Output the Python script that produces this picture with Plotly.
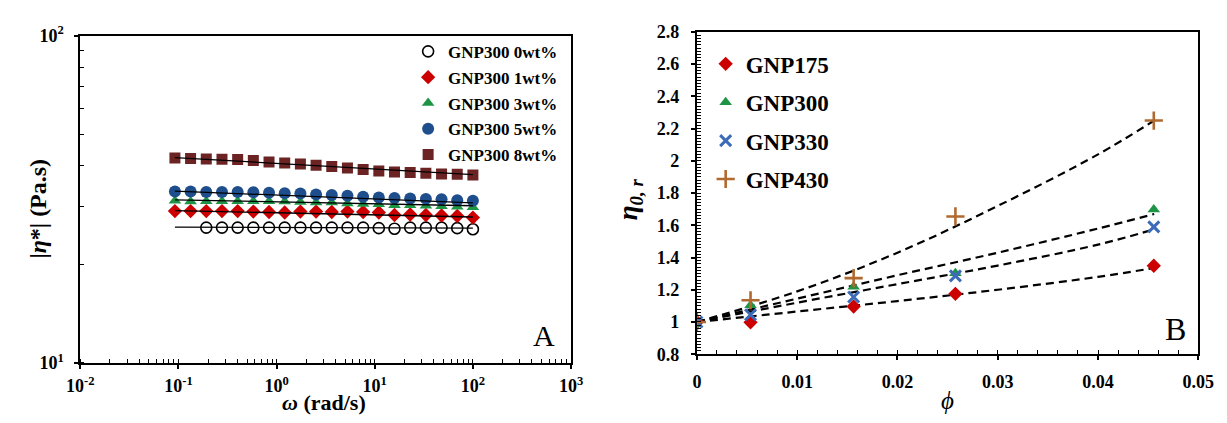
import plotly.graph_objects as go

W, H = 1227, 423
FONT = "Liberation Serif"

# ---------------- Panel A data ----------------
omega = [0.092, 0.1329, 0.1920, 0.2775, 0.4009, 0.5792, 0.8368, 1.209, 1.747, 2.524,
         3.647, 5.269, 7.613, 11.0, 15.89, 22.96, 33.17, 47.93, 69.25, 100.0]
eta_0wt = [25.9, 25.9, 25.9, 25.9, 25.9, 25.9, 25.9, 25.9, 25.9, 25.9,
           25.9, 25.8, 25.7, 25.9, 25.9, 25.9, 25.8, 25.6]          # from omega[2:]
eta_1wt = [29.1, 29.1, 29.1, 29.1, 29.1, 29.0, 28.9, 28.8, 29.0, 29.0,
           28.9, 29.0, 28.9, 28.8, 28.3, 28.4, 28.3, 28.2, 28.1, 27.8]
eta_3wt = [31.3, 31.1, 31.2, 31.2, 31.2, 31.2, 31.2, 31.1, 31.0, 30.9,
           30.9, 30.7, 30.6, 30.5, 30.3, 30.3, 30.2, 30.1, 30.0, 29.9]
eta_5wt = [33.4, 33.4, 33.3, 33.3, 33.3, 33.2, 33.1, 33.0, 32.9, 32.7,
           32.6, 32.4, 32.2, 32.0, 31.9, 31.8, 31.7, 31.6, 31.4, 31.3]
eta_8wt = [42.3, 42.1, 42.0, 41.9, 41.8, 41.5, 41.1, 40.8, 40.5, 40.2,
           39.8, 39.4, 39.0, 38.6, 38.3, 38.2, 38.0, 37.8, 37.7, 37.5]
fit_omega = [0.092, 100.0]
fit_0wt = [26.0, 25.8]
fit_1wt = [29.2, 27.9]
fit_3wt = [31.5, 30.2]
fit_5wt = [33.5, 30.8]
fit_8wt = [42.4, 37.6]
labels_A = ["GNP300 0wt%", "GNP300 1wt%", "GNP300 3wt%", "GNP300 5wt%", "GNP300 8wt%"]
xticks_A = [0.01, 0.1, 1, 10, 100, 1000]
xticktext_A = ["10<sup>-2</sup>", "10<sup>-1</sup>", "10<sup>0</sup>", "10<sup>1</sup>",
               "10<sup>2</sup>", "10<sup>3</sup>"]
yticks_A = [10, 100]
yticktext_A = ["10<sup>1</sup>", "10<sup>2</sup>"]

# ---------------- Panel B data ----------------
phi = [0.0, 0.00535, 0.01563, 0.02578, 0.04556]
eta_r_175 = [1.00, 0.998, 1.096, 1.175, 1.349]
eta_r_300 = [0.985, 1.104, 1.218, 1.302, 1.698]
eta_r_330 = [1.00, 1.045, 1.155, 1.286, 1.590]
eta_r_430 = [1.00, 1.135, 1.272, 1.655, 2.250]
fit_phi = [0.0, 0.01, 0.02, 0.03, 0.04, 0.0456]
fit_175 = [1.0, 1.065, 1.13, 1.20, 1.28, 1.335]
fit_300 = [1.0, 1.145, 1.29, 1.43, 1.58, 1.67]
fit_330 = [1.0, 1.12, 1.235, 1.35, 1.48, 1.575]
fit_430 = [1.0, 1.19, 1.43, 1.72, 2.04, 2.25]
labels_B = ["GNP175", "GNP300", "GNP330", "GNP430"]

# colours
C_RED = "#CC0000"
C_GREEN = "#1E9445"
C_BLUE = "#1F4E8C"
C_MAROON = "#6B2323"
C_XBLUE = "#3C6BB8"
C_BROWN = "#B0692E"

fig = go.Figure()

# ---- Panel A markers ----
specs_A = [
    (omega[2:], eta_0wt, dict(symbol="circle-open", size=11, color="black", line=dict(width=1.6, color="black"))),
    (omega, eta_1wt, dict(symbol="diamond", size=11, color=C_RED)),
    (omega, eta_3wt, dict(symbol="triangle-up", size=11, color=C_GREEN)),
    (omega, eta_5wt, dict(symbol="circle", size=12, color=C_BLUE)),
    (omega, eta_8wt, dict(symbol="square", size=11, color=C_MAROON)),
]
for i, (xs, ys, mk) in enumerate(specs_A):
    fig.add_trace(go.Scatter(x=xs, y=ys, mode="markers", marker=mk, name=labels_A[i],
                             xaxis="x", yaxis="y", legend="legend", legendgroup=f"a{i}"))
for ys in [fit_0wt, fit_1wt, fit_3wt, fit_5wt, fit_8wt]:
    fig.add_trace(go.Scatter(x=fit_omega, y=ys, mode="lines", line=dict(color="black", width=1.3),
                             showlegend=False, xaxis="x", yaxis="y", hoverinfo="skip"))

# ---- Panel B ----
for ys in [fit_175, fit_300, fit_330, fit_430]:
    fig.add_trace(go.Scatter(x=fit_phi, y=ys, mode="lines", line=dict(color="black", width=2.2, dash="8px,5px"),
                             line_shape="spline", showlegend=False, xaxis="x2", yaxis="y2", hoverinfo="skip"))
specs_B = [
    (eta_r_175, dict(symbol="diamond", size=11, color=C_RED)),
    (eta_r_300, dict(symbol="triangle-up", size=11, color=C_GREEN)),
    (eta_r_330, dict(symbol="x-thin", size=11, color=C_XBLUE, line=dict(width=3, color=C_XBLUE))),
    (eta_r_430, dict(symbol="cross-thin", size=13, color=C_BROWN, line=dict(width=2.6, color=C_BROWN))),
]
for i, (ys, mk) in enumerate(specs_B):
    fig.add_trace(go.Scatter(x=phi, y=ys, mode="markers", marker=mk, name=labels_B[i],
                             xaxis="x2", yaxis="y2", legend="legend2", legendgroup=f"b{i}"))


def px_x(p):
    return p / W


def px_y(p):
    return 1 - p / H


def axis_common(size, standoff):
    return dict(showline=True, linecolor="black", linewidth=2, mirror=True,
                showgrid=False, zeroline=False, ticks="outside", ticklen=4, tickwidth=1.5,
                tickcolor="black", ticklabelstandoff=standoff,
                tickfont=dict(family=FONT, size=size, color="black", weight="bold"))


fig.update_layout(
    width=W, height=H, margin=dict(l=0, r=0, t=0, b=0),
    paper_bgcolor="white", plot_bgcolor="white",
    xaxis=dict(domain=[px_x(68), px_x(571)], type="log", range=[-2, 3],
               tickmode="array", tickvals=xticks_A, ticktext=xticktext_A, anchor="y",
               minor=dict(ticks="inside", ticklen=4, tickcolor="black", tickwidth=1.2, dtick="D1"),
               **axis_common(18, 2)),
    yaxis=dict(domain=[px_y(370), px_y(25)], type="log", range=[1, 2],
               tickmode="array", tickvals=yticks_A, ticktext=yticktext_A, anchor="x",
               minor=dict(ticks="inside", ticklen=4, tickcolor="black", tickwidth=1.2, dtick="D1"),
               **axis_common(18, 7)),
    xaxis2=dict(domain=[px_x(700), px_x(1214)], range=[0, 0.05], dtick=0.01, anchor="y2",
                minor=dict(ticks="inside", ticklen=4, dtick=0.002, tickcolor="black", tickwidth=1.2),
                **axis_common(18, 6)),
    yaxis2=dict(domain=[px_y(361), px_y(21)], range=[0.8, 2.8], dtick=0.2, anchor="x2",
                tickformat="~g",
                minor=dict(ticks="inside", ticklen=4, dtick=0.02, tickcolor="black", tickwidth=1.2),
                **axis_common(18, 8)),
    legend=dict(x=px_x(404), y=px_y(23), xanchor="left", yanchor="top",
                bgcolor="rgba(0,0,0,0)", traceorder="grouped", tracegroupgap=0.7,
                font=dict(family=FONT, size=17, color="black", weight="bold"), itemwidth=30),
    legend2=dict(x=px_x(709), y=px_y(32), xanchor="left", yanchor="top",
                 bgcolor="rgba(0,0,0,0)", traceorder="grouped", tracegroupgap=5.5,
                 font=dict(family=FONT, size=23, color="black", weight="bold"), itemwidth=30),
    showlegend=True,
)

annotations = [
    dict(text="A", x=px_x(543), y=px_y(341), font=dict(family=FONT, size=30, color="black")),
    dict(text="B", x=px_x(1191), y=px_y(334), font=dict(family=FONT, size=32, color="black")),
    dict(text="<b><i>ω</i> (rad/s)</b>", x=px_x(318), y=px_y(412), font=dict(family=FONT, size=22, color="black")),
    dict(text="<b>|<i>η</i>*| (Pa.s)</b>", x=px_x(25), y=px_y(207), textangle=-90,
         font=dict(family=FONT, size=24, color="black")),
    dict(text="<i>ϕ</i>", x=px_x(957), y=px_y(410), font=dict(family=FONT, size=25, color="black")),
    dict(text="<b><i>η</i><sub><i>0, r</i></sub></b>", x=px_x(631), y=px_y(198), textangle=-90,
         font=dict(family=FONT, size=27, color="black")),
]
for a in annotations:
    a.update(xref="paper", yref="paper", showarrow=False, xanchor="center", yanchor="middle")
fig.update_layout(annotations=annotations)

fig.write_html("out.html")
